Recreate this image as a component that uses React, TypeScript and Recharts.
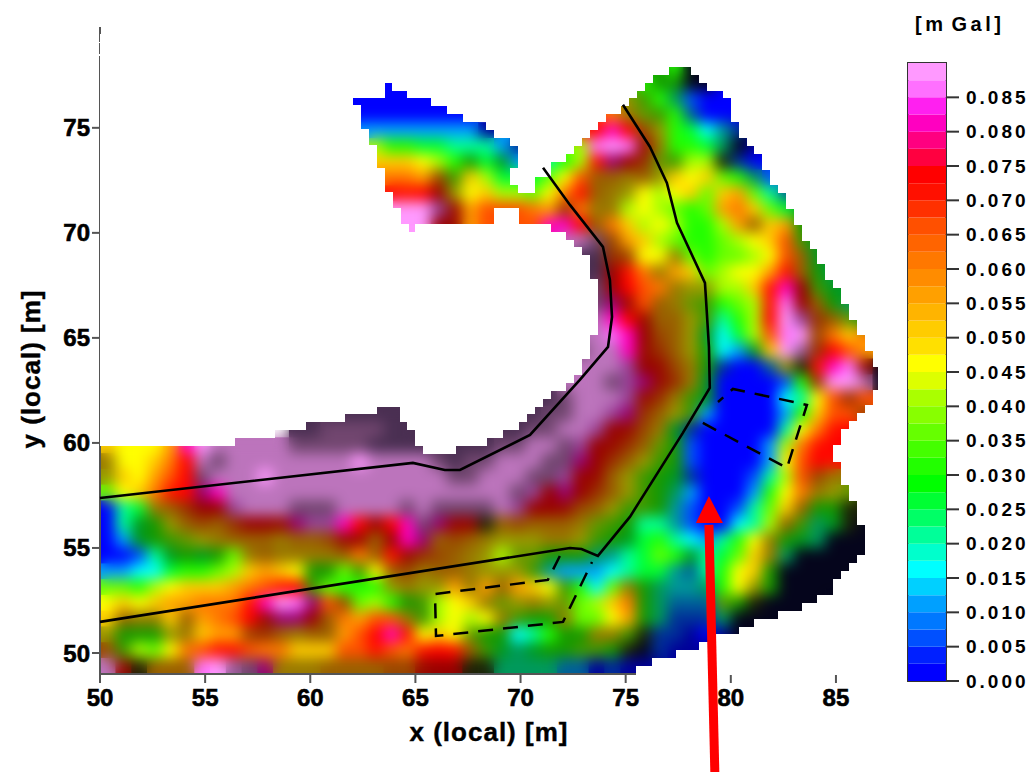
import React from 'react';
import { ScatterChart, Scatter, XAxis, YAxis, ReferenceLine, ReferenceDot, ReferenceArea, BarChart, Bar, Label } from 'recharts';

// Map values, one letter per 0.75 m cell.
// a..s = 0.000..0.090 mGal, t = pale purple top class, upper case = same value in hill shade,
// 0 1 2 = near black shades, . = no data
const gridRows = [
  '..... ..... ..... ..... ..... ..... ..... ..... ..... .....',
  '..... ..... ..... ..... ..... ..... ....G Gg00. ..... .....',
  '..... ..... ..... ..aa. ..... ..... ...Gg GG00. ..... .....',
  '..... ..... ..... aaaaa aa... ..... ...JH gEbaa a.... .....',
  '..... ..... ..... aaaaa aaaa. ..... .nmKI HgCaa a.... .....',
  '..... ..... ..... .cccc ccccA ..... opqpM JgfdD B.... .....',
  '..... ..... ..... ..igg ffeee cB..h irsrO KggfE 0A... .....',
  '..... ..... ..... ..kkk jigGf Fc.eg ioQPN IHii2 Ba... .....',
  '..... ..... ..... ..mmm lMHki fffhj nLLKL Jkjkh gEb.. .....',
  '..... ..... ..... ...po pPJjk iihjm oLKJj ijkhk lheC. .....',
  '..... ..... ..... ...ss sROln nnmlN mKKij ihghl mkhfF .....',
  '..... ..... ..... ...ss sPOln nnnqq pLmki jiggi lLklG .....',
  '..... ..... ..... ..... ..... ...qt tTMlk ihggh ijknH F....',
  '..... ..... ..... ..... ..... ..... 11NMj jKhgh hijnL FF...',
  '..... ..... ..... ..... ..... ..... 11Pom Klkhi jjloL GE...',
  '..... ..... ..... ..... ..... ..... 1TPpn mKJJi ikoqP HF...',
  '..... ..... ..... ..... ..... ..... TTQOn LKIHg hiorP LGE..',
  '..... ..... ..... ..... ..... ..... TtqpO LLJHe gipsR NLIF.',
  '..... ..... ..... ..... ..... ..... ttrqP MLJFd finrs Mmkm.',
  '..... ..... ..... ..... ..... ..... TttqO NLJGd cFksS Npnl.',
  '..... ..... ..... ..... ..... ..... tttRP OMKGB aaCJ2 oqrO0',
  '..... ..... ..... ..... ..... ....t ttTRQ ONKFa aaabg Nsst0',
  '..... ..... ..... ..... ..... ...1T tttRO NKHFa aaade jnNn.',
  '..... ..... ....1 11111 ..... .11TT ttRQN LJHca aaacg knnM.',
  '..... ..... ..11T TTT11 ..... 11TTt tRPOM KFBaa aaaej mop..',
  'kjjjl qsttt ttTTT TT111 11111 TTttT RPONL IGbaa aacim op...',
  'Kjjkm ptTtt ttttt tsttt tT1TT tttTT QPNLJ HGbaa aacjn po...',
  'Jkjln pTttt stttt ttttt ttTTt ttTTR POLJH GFBaa abein MK...',
  'hjkmo pQqtt ttttt ttttt ttttt tTRPQ PNLJH GEcaa acgjm KJI..',
  'aefKL NPPRt ttTTT ttttT tTTTT tRPPO MLJHH GDbaa behkL GG2..',
  'aeFGJ LMLNP POQRR qpPpq TQPP2 LMLLL KIHGe eDbaa deiLH EF20.',
  'acFGH IJKLL LKLLM OOLPq QLMLK JJJKK JHGFf gedce gjKGF E000.',
  'aabeF GFGhK LKKKK LmLoO NMLKJ iIIGG GEDef hgFef hkKE0 0000.',
  'ccddf gghik lkjGG hHjLM KLLKJ JJHDc ccdef fDCeg jkG00 000..',
  'hhgij kkklm nopHh gggJK JJlKl LlkjH gdhKG EDDEg jJG00 000..',
  'jkjkl lmmmo qsrQn MhigG HijkK IJKJI hikmG ECCCI G2000 0....',
  'kLKKk Llmnp OQQPL mlnnK Hijij KHGGK hhjlG EBBBE 00000 .....',
  'JGGGJ KkllM NLKLL lnpqo jkjIG GdegG GKKH2 BBAaA 0.... .....',
  'MHihj mnoon mmkkk nnonm opoLH FEFGG HHG20 BAAA0 ..... .....',
  'tO2LL LrsST QKKKL LLLMM OPP22 EEEEC CABAA A.... ..... .....',
];

// Surveyed area: per row of 0.375 m cells, from the top, pairs of [first, end) column numbers
const coverageSpans = [
  [72, 75], [70, 76], [36, 37, 69, 77], [36, 39, 68, 79], [32, 42, 67, 80], [33, 44, 66, 80],
  [33, 46, 64, 80], [33, 49, 63, 81], [34, 50, 62, 81], [34, 52, 61, 82], [35, 53, 60, 83],
  [35, 53, 59, 84], [35, 53, 57, 84], [36, 52, 57, 85], [36, 52, 55, 85], [36, 53, 55, 86],
  [37, 87], [37, 87], [38, 50, 53, 88], [38, 50, 53, 88], [39, 40, 57, 89], [59, 89], [60, 90],
  [61, 91], [62, 91], [62, 92], [62, 92], [63, 93], [63, 94], [63, 94], [63, 95], [63, 95],
  [63, 96], [63, 96], [62, 97], [62, 97], [62, 98], [61, 98], [61, 99], [60, 99], [59, 99],
  [57, 98], [56, 98], [35, 38, 55, 97], [31, 38, 54, 96], [26, 39, 53, 95], [22, 40, 51, 94],
  [17, 40, 49, 94], [0, 41, 45, 93], [0, 93], [0, 94], [0, 94], [0, 94], [0, 95], [0, 95],
  [0, 96], [0, 96], [0, 96], [0, 97], [0, 97], [0, 97], [0, 97], [0, 96], [0, 95], [0, 94],
  [0, 93], [0, 93], [0, 91], [0, 89], [0, 86], [0, 83], [0, 81], [0, 78], [0, 76], [0, 73],
  [0, 70], [0, 68],
];

const outerPath = [
  { x: 50, y: 51.48 }, { x: 72.35, y: 55 }, { x: 72.9, y: 54.95 }, { x: 73.68, y: 54.62 },
  { x: 75.2, y: 56.48 }, { x: 77.72, y: 60.48 }, { x: 79, y: 62.62 }, { x: 78.96, y: 64.57 },
  { x: 78.86, y: 66.19 }, { x: 78.77, y: 67.62 }, { x: 77.44, y: 70.48 }, { x: 76.96, y: 72.38 },
  { x: 76.15, y: 74.1 }, { x: 74.87, y: 76.1 },
];
const innerPath = [
  { x: 50, y: 57.38 }, { x: 64.88, y: 59.05 }, { x: 66.4, y: 58.71 }, { x: 67.12, y: 58.71 },
  { x: 70.45, y: 60.38 }, { x: 72.82, y: 63 }, { x: 74.16, y: 64.57 }, { x: 74.35, y: 66 },
  { x: 74.25, y: 67.76 }, { x: 73.92, y: 69.33 }, { x: 72.35, y: 71.33 }, { x: 71.07, y: 73.1 },
];
const dashedLower = [
  { x: 71.87, y: 54.62 }, { x: 71.3, y: 53.48 }, { x: 65.93, y: 52.81 }, { x: 65.98, y: 50.81 },
  { x: 72.02, y: 51.48 }, { x: 73.4, y: 54.33 },
];
const dashedUpper = [
  { x: 78.67, y: 60.95 }, { x: 82.67, y: 58.81 }, { x: 83.62, y: 61.81 }, { x: 80.1, y: 62.57 },
  { x: 79.39, y: 61.95 },
];
const arrowShaft = [{ x: 79.24, y: 44.33 }, { x: 78.96, y: 56.1 }];
const arrowBase = { x: 78.96, y: 56.19 };

const xTicks = [50, 55, 60, 65, 70, 75, 80, 85];
const yTicks = [50, 55, 60, 65, 70, 75];
const barTicks = [0, 0.005, 0.01, 0.015, 0.02, 0.025, 0.03, 0.035, 0.04, 0.045, 0.05, 0.055, 0.06, 0.065, 0.07, 0.075, 0.08, 0.085];

// Colour bar classes, bottom to top, 0.0025 mGal each
const barColors = [
  '#0000ff', '#0020ff', '#0050ff', '#0078ff', '#00a0ff', '#00d0ff', '#00ffff', '#00ffcc', '#00ff99',
  '#00ff66', '#00ff33', '#00ff00', '#22ff00', '#44ff00', '#66ff00', '#88ff00', '#aaff00', '#ddff00',
  '#ffff00', '#ffe000', '#ffcc00', '#ffb400', '#ffa000', '#ff8c00', '#ff7800', '#ff6400', '#ff5000',
  '#ff3000', '#ff1000', '#ff0000', '#ff0040', '#ff0080', '#ff00c0', '#ff20f0', '#ff70ff', '#ff99ff',
];
const letterValues = [0, 0.005, 0.01, 0.015, 0.02, 0.025, 0.03, 0.035, 0.04, 0.045, 0.05, 0.055, 0.06, 0.065, 0.07, 0.074, 0.081, 0.086, 0.09];
const specialColors: Record<string, string> = { t: '#bc74bc', T: '#71466f', '0': '#05051c', '1': '#4a2f52', '2': '#1c2408' };

const shade = (hex: string) => {
  const n = parseInt(hex.slice(1), 16);
  const f = 0.6;
  return `rgb(${Math.round((n >> 16) * f)},${Math.round(((n >> 8) & 255) * f)},${Math.round((n & 255) * f)})`;
};

const cellColor = (c: string) => {
  if (specialColors[c]) return specialColors[c];
  const lower = c.toLowerCase();
  const value = letterValues[lower.charCodeAt(0) - 97];
  const hex = barColors[Math.min(35, Math.floor(value / 0.0025 + 0.001))];
  return c === lower ? hex : shade(hex);
};

const valueCells: { x: number; y: number; color: string }[] = [];
gridRows.forEach((row, r) => {
  row.replace(/ /g, '').split('').forEach((c, k) => {
    if (c !== '.') valueCells.push({ x: 50.375 + 0.75 * k, y: 78.625 - 0.75 * r, color: cellColor(c) });
  });
});

// Everything outside the surveyed area is painted white over the smoothed layer
const blankCells: { x: number; y: number }[] = [];
for (let r = -4; r < coverageSpans.length; r++) {
  const spans = coverageSpans[r] || [];
  for (let c = 0; c < 99; c++) {
    let inside = false;
    for (let i = 0; i < spans.length; i += 2) {
      if (c >= spans[i] && c < spans[i + 1]) inside = true;
    }
    if (!inside) blankCells.push({ x: 50 + 0.375 * (c + 0.5), y: 49 + 0.376 * (76 - r + 0.5) });
  }
}

const barRow: Record<string, number | string> = { name: 'scale' };
barColors.forEach((_, i) => { barRow[`c${i}`] = 0.0025; });

const ValueCell = (props: any) => (
  <rect x={props.cx - 8.2} y={props.cy - 8.2} width={16.4} height={16.4} fill={props.payload.color} />
);
const BlankCell = (props: any) => (
  <rect x={Math.round(props.cx - 4)} y={Math.round(props.cy - 4)} width={9} height={9} fill="#ffffff" />
);
const NoMark = () => null;
const ArrowHead = (props: any) => (
  <polygon points={`${props.cx},${props.cy - 27} ${props.cx + 14},${props.cy} ${props.cx - 13},${props.cy}`} fill="#ff0000" />
);

const font = '"Liberation Sans", Arial, sans-serif';
const mainTick = { fontFamily: font, fontSize: 24, fontWeight: 700, fill: '#000', stroke: '#000', strokeWidth: 0.6 };
const axisLabel = { fontFamily: font, fontSize: 26, fontWeight: 700, fill: '#000', stroke: '#000', strokeWidth: 0.4, letterSpacing: 1 };
const axisStroke = { stroke: '#555555', strokeWidth: 2 };
const plotMargin = { top: 27, right: 152, bottom: 98, left: 100 };

const HiddenAxes = [
  <XAxis key="x" type="number" dataKey="x" domain={[50, 87]} ticks={xTicks} hide allowDataOverflow />,
  <YAxis key="y" type="number" dataKey="y" domain={[49, 79.8]} ticks={yTicks} hide allowDataOverflow />,
];

// The value cells, clipped to the plot rectangle; soft adds the smoothing of the gridded map
const HeatLayer = ({ soft }: { soft: boolean }) => (
  <div style={{ position: 'absolute', left: 100, top: 27, width: 778, height: 647, overflow: 'hidden' }}>
    <div style={{ position: 'absolute', left: -100, top: -27, filter: soft ? 'blur(7px)' : undefined }}>
      <ScatterChart width={1030} height={772} margin={plotMargin}>
        {HiddenAxes}
        <Scatter data={valueCells} shape={<ValueCell />} isAnimationActive={false} />
      </ScatterChart>
    </div>
  </div>
);

export default function App() {
  return (
    <div style={{ position: 'absolute', left: 0, top: 0, width: 1030, height: 772, overflow: 'hidden', background: '#fff' }}>
      <HeatLayer soft={false} />
      <HeatLayer soft />

      <div style={{ position: 'absolute', left: 0, top: 0 }}>
        <ScatterChart width={1030} height={772} margin={{ top: 27, right: 152, bottom: 0, left: 0 }}>
          <XAxis
            type="number"
            dataKey="x"
            domain={[50, 87]}
            ticks={xTicks}
            height={98}
            tickSize={9}
            tickMargin={6}
            tick={mainTick}
            axisLine={axisStroke}
            tickLine={axisStroke}
          >
            <Label
              content={() => (
                <text x={489} y={741} textAnchor="middle" {...axisLabel}>x (local) [m]</text>
              )}
            />
          </XAxis>
          <YAxis
            type="number"
            dataKey="y"
            domain={[49, 79.8]}
            ticks={yTicks}
            width={100}
            tickSize={8}
            tickMargin={2}
            tick={mainTick}
            axisLine={{ ...axisStroke, strokeDasharray: '15 1 11 2 2000' }}
            tickLine={axisStroke}
          >
            <Label
              content={() => (
                <text x={0} y={0} transform="translate(40,369) rotate(-90)" textAnchor="middle" {...axisLabel}>y (local) [m]</text>
              )}
            />
          </YAxis>
          <Scatter data={blankCells} shape={<BlankCell />} isAnimationActive={false} />
          <Scatter data={outerPath} line={{ stroke: '#000', strokeWidth: 2.6 }} shape={<NoMark />} isAnimationActive={false} />
          <Scatter data={innerPath} line={{ stroke: '#000', strokeWidth: 2.6 }} shape={<NoMark />} isAnimationActive={false} />
          <Scatter data={dashedLower} line={{ stroke: '#000', strokeWidth: 2.5, strokeDasharray: '15 10' }} shape={<NoMark />} isAnimationActive={false} />
          <Scatter data={dashedUpper} line={{ stroke: '#000', strokeWidth: 2.5, strokeDasharray: '15 10' }} shape={<NoMark />} isAnimationActive={false} />
        </ScatterChart>
      </div>

      {/* annotation arrow, runs past the plot down to the page edge */}
      <div style={{ position: 'absolute', left: 0, top: 0 }}>
        <ScatterChart width={1030} height={772} margin={plotMargin}>
          {HiddenAxes}
          <ReferenceLine segment={arrowShaft} stroke="#ff0000" strokeWidth={9} ifOverflow="visible" />
          <ReferenceDot x={arrowBase.x} y={arrowBase.y} shape={<ArrowHead />} ifOverflow="visible" />
        </ScatterChart>
      </div>

      <div style={{ position: 'absolute', left: 0, top: 0 }}>
        <BarChart
          width={1030}
          height={772}
          data={[barRow]}
          barCategoryGap={0}
          margin={{ top: 63, right: 0, bottom: 91, left: 908 }}
        >
          <XAxis dataKey="name" hide />
          <YAxis
            orientation="right"
            type="number"
            domain={[0, 0.09]}
            ticks={barTicks}
            width={84}
            interval={0}
            tickSize={13}
            tickMargin={7}
            tickFormatter={(v: number) => v.toFixed(3)}
            tick={{ fontFamily: font, fontSize: 19, fontWeight: 700, fill: '#000', letterSpacing: 3 }}
            axisLine={false}
            tickLine={{ stroke: '#333', strokeWidth: 2 }}
          />
          {barColors.map((color, i) => (
            <Bar key={i} dataKey={`c${i}`} stackId="scale" fill={color} isAnimationActive={false} />
          ))}
          <ReferenceArea y1={0} y2={0.09} fill="none" stroke="#333" strokeWidth={2} />
        </BarChart>
      </div>

      <div style={{ position: 'absolute', left: 915, top: 13, fontFamily: font, fontSize: 20, fontWeight: 700, letterSpacing: 3.5, wordSpacing: -4, whiteSpace: 'pre' }}>
        [m Gal]
      </div>
    </div>
  );
}
